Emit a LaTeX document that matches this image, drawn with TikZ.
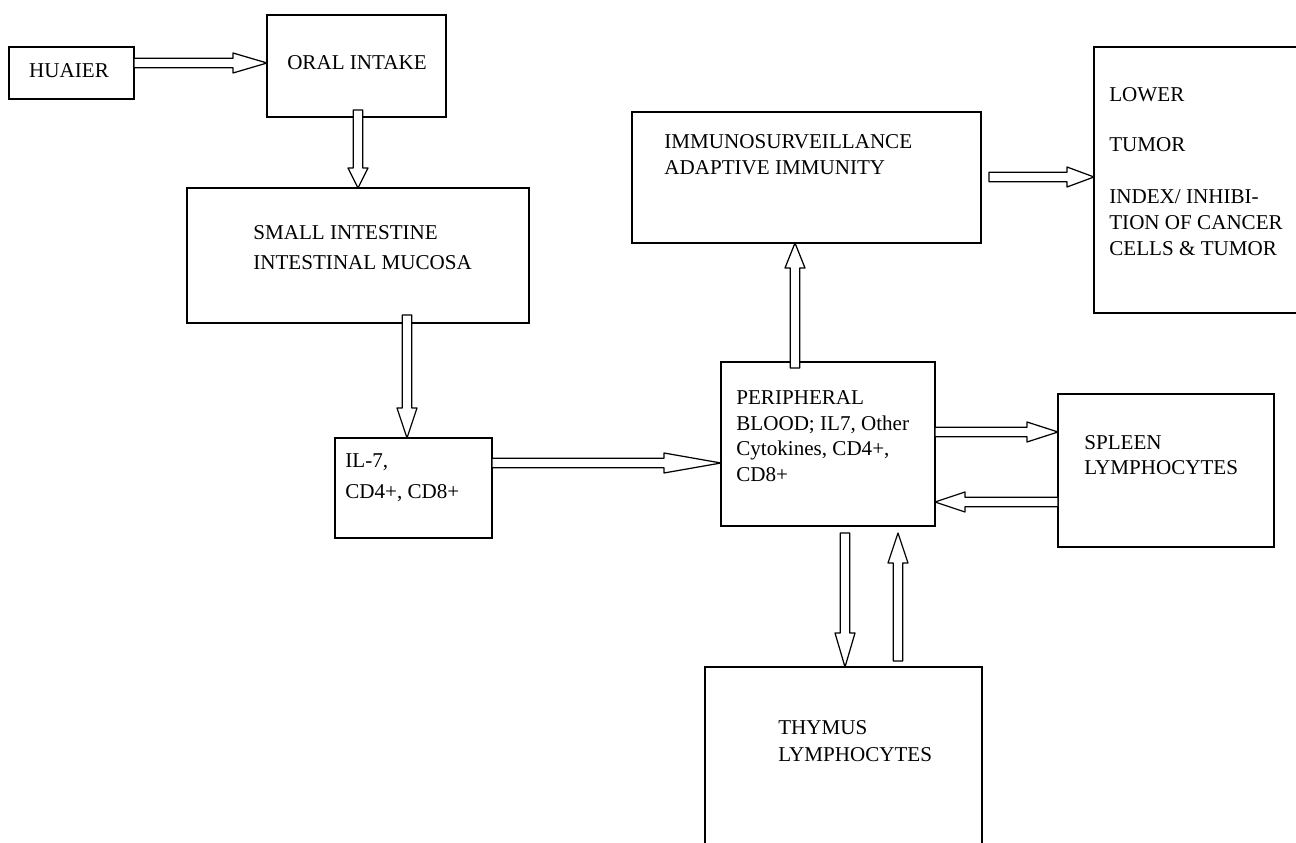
\documentclass[tikz,border=0pt]{standalone}
\usepackage{fontspec}
\setmainfont{Liberation Serif}
\usetikzlibrary{calc, fit}

% hollow block arrow from #2 to #3 (head length #1)
\newcommand{\shaftw}{0.95mm}
\newcommand{\headw}{2mm}
\newcommand{\fatarrow}[3][6mm]{%
  \coordinate (hb) at ($(#3)!#1!(#2)$);
  \draw[fat] ($(#2)!\shaftw!90:(#3)$) -- ($(hb)!\shaftw!-90:(#2)$)
    -- ($(hb)!\headw!-90:(#2)$) -- (#3) -- ($(hb)!\headw!90:(#2)$)
    -- ($(hb)!\shaftw!90:(#2)$) -- ($(#2)!\shaftw!-90:(#3)$) -- cycle;
}

\begin{document}
\begin{tikzpicture}[x=0.2mm, y=-0.2mm,
    box/.style={draw, line width=0.9pt, inner sep=0pt},
    txt/.style={anchor=west, align=left, inner sep=0pt, font=\fontsize{12}{14.6}\selectfont},
    fat/.style={draw, fill=white, line width=0.7pt, line join=round}]

    % page frame
    \useasboundingbox (0,0) rectangle (1296,843);
    \clip (0,0) rectangle (1296,843);

    % boxes
    \node[box, fit={(9,47) (134,99)}] (huaier) {};
    \node[box, fit={(267,15) (446,117)}] (oral) {};
    \node[box, fit={(187,188) (529,323)}] (small) {};
    \node[box, fit={(335,438) (492,538)}] (il7) {};
    \node[box, fit={(721,362) (935,526)}] (periph) {};
    \node[box, fit={(632,112) (981,243)}] (immuno) {};
    \node[box, fit={(1094,47) (1310,313)}] (lower) {};
    \node[box, fit={(1058,394) (1274,547)}] (spleen) {};
    \node[box, fit={(705,667) (982,860)}] (thymus) {};

    % arrow ends
    \coordinate (huaierR) at (134,63);    \coordinate (oralL) at (267,63);
    \coordinate (oralB) at (358,110);     \coordinate (smallT) at (358,188);
    \coordinate (smallB) at (407,315);    \coordinate (il7T) at (407,438);
    \coordinate (il7R) at (492,463);      \coordinate (periphL) at (721,463);
    \coordinate (periphT) at (795,368);   \coordinate (immunoB) at (795,243);
    \coordinate (immunoR) at (989,177);   \coordinate (lowerL) at (1094,177);
    \coordinate (periphR) at (935,432);   \coordinate (spleenL) at (1058,432);
    \coordinate (spleenL2) at (1058,502); \coordinate (periphR2) at (935,502);
    \coordinate (periphB) at (845,533);   \coordinate (thymusT) at (845,667);
    \coordinate (thymusT2) at (898,661);  \coordinate (periphB2) at (898,533);

    % block arrows
    \fatarrow[6.8mm]{huaierR}{oralL}
    \fatarrow[4mm]{oralB}{smallT}
    \fatarrow[6mm]{smallB}{il7T}
    \fatarrow[11.4mm]{il7R}{periphL}
    \fatarrow[5mm]{periphT}{immunoB}
    \fatarrow[5.4mm]{immunoR}{lowerL}
    \fatarrow[6.2mm]{periphR}{spleenL}
    \fatarrow[6mm]{spleenL2}{periphR2}
    \fatarrow[6.8mm]{periphB}{thymusT}
    \fatarrow[6mm]{thymusT2}{periphB2}

    % labels
    \node[txt, anchor=center] (huaiertxt) at (69,71) {HUAIER};
    \node[txt, anchor=center] (oraltxt) at (357,63) {ORAL INTAKE};
    \node[txt] (smalltxt) at (253,248) {SMALL INTESTINE\\[2.5pt]INTESTINAL MUCOSA};
    \node[txt] (il7txt) at (345,478) {IL-7,\\[3pt]CD4+, CD8+};
    \node[txt] (periphtxt) at (736,436) {PERIPHERAL\\BLOOD; IL7, Other\\Cytokines, CD4+,\\CD8+};
    \node[txt] (immunotxt) at (664,155) {IMMUNOSURVEILLANCE\\ADAPTIVE IMMUNITY};
    \node[txt] (lowertxt) at (1109,171.5) {LOWER\\[14pt]TUMOR\\[15pt]INDEX/ INHIBI-\\TION OF CANCER\\CELLS \& TUMOR};
    \node[txt] (spleentxt) at (1084,455) {SPLEEN\\LYMPHOCYTES};
    \node[txt] (thymustxt) at (778,741.5) {THYMUS\\[0.8pt]LYMPHOCYTES};

\end{tikzpicture}
\end{document}
